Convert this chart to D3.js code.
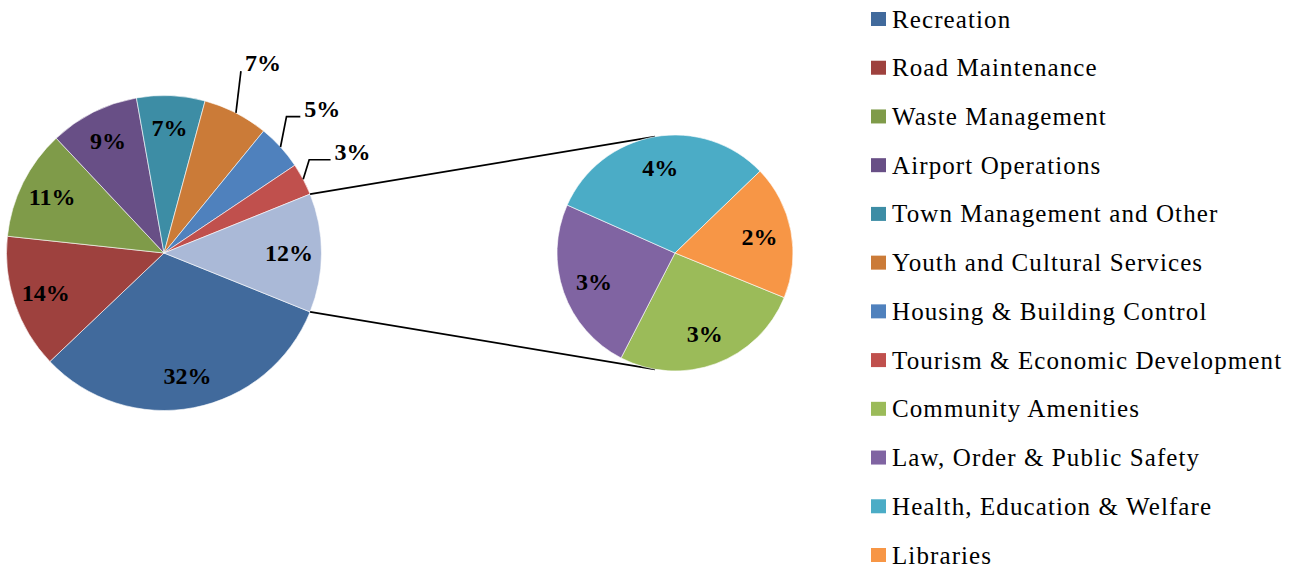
<!DOCTYPE html>
<html><head><meta charset="utf-8">
<script src="https://cdn.jsdelivr.net/npm/d3@7"></script>
<style>
html,body{margin:0;padding:0;background:#fff;}
svg{display:block;}
svg text{font-family:"Liberation Serif","Times New Roman",serif;}
</style></head>
<body>
<svg id="chart" width="1303" height="569"></svg>
<script>
const mainCategories = ["Recreation","Road Maintenance","Waste Management","Airport Operations","Town Management and Other","Youth and Cultural Services","Housing & Building Control","Tourism & Economic Development"];
const mainValues = [31.8,13.8,11.3,9.2,7.0,6.7,4.7,3.3];
const secondCategories = ["Community Amenities","Law, Order & Public Safety","Health, Education & Welfare","Libraries"];
const secondValues = [3.22,2.94,3.80,2.24];
const mainColors = ["#416A9C","#9E413E","#7F9B49","#684F86","#3D8DA5","#CB7B38","#4F81BD","#C0504D"];
const otherColor = "#AAB9D7";
const secondColors = ["#9BBB59","#8064A2","#4BACC6","#F79646"];

const FONT = "Liberation Serif, Times New Roman, serif";
const svg = d3.select("#chart");
const otherValue = d3.sum(secondValues);
const total = d3.sum(mainValues) + otherValue;
const pct = v => Math.round(v / total * 100) + "%";

const c1 = {x:164, y:253, r:157.5};
const c2 = {x:675, y:253, r:118};
const start = Math.PI/2 + Math.PI * otherValue/total;

const mainData = mainValues.map((v,i)=>({name:mainCategories[i], value:v, color:mainColors[i], outside: v < 7}));
mainData.push({name:"Other", value:otherValue, color:otherColor, outside:false});

const pie1 = d3.pie().sort(null).value(d=>d.value).startAngle(start).endAngle(start+2*Math.PI);
const arcs1 = pie1(mainData);
const arc1 = d3.arc().innerRadius(0).outerRadius(c1.r);

const g1 = svg.append("g").attr("transform",`translate(${c1.x},${c1.y})`);
g1.selectAll("path").data(arcs1).join("path")
  .attr("d",arc1).attr("fill",d=>d.data.color)
  .attr("stroke","#fff").attr("stroke-width",0.6);

const pt = (r,a) => [r*Math.sin(a), -r*Math.cos(a)];

const inside = arcs1.filter(d=>!d.data.outside);
g1.selectAll("text.in").data(inside).join("text").attr("class","in")
  .attr("x",d=>pt(125,(d.startAngle+d.endAngle)/2)[0])
  .attr("y",d=>pt(125,(d.startAngle+d.endAngle)/2)[1])
  .attr("text-anchor","middle").attr("dominant-baseline","central")
  .attr("font-family",FONT).attr("font-weight","bold").attr("font-size",24).attr("fill","#000")
  .text(d=>pct(d.data.value));

const outside = arcs1.filter(d=>d.data.outside);
outside.forEach(d=>{
  const m = (d.startAngle+d.endAngle)/2;
  const e = pt(c1.r,m);
  const l = pt(210,m);
  const lx = l[0] + 3, ly = l[1] - 3;
  const t = g1.append("text").attr("x",lx).attr("y",ly)
    .attr("text-anchor","middle").attr("dominant-baseline","central")
    .attr("font-family",FONT).attr("font-weight","bold").attr("font-size",24).attr("fill","#000")
    .text(pct(d.data.value));
  const w = t.node().getComputedTextLength();
  const endX = lx - w/2 - 4, yy = ly + 8;
  const elbowX = Math.min(e[0] + 6, endX);
  g1.append("polyline")
    .attr("points",`${e[0]},${e[1]} ${elbowX},${yy} ${endX},${yy}`)
    .attr("fill","none").attr("stroke","#000").attr("stroke-width",1.7);
});

const other = arcs1[arcs1.length-1];
const pUp = pt(c1.r, other.startAngle), pDn = pt(c1.r, other.endAngle);
const off = Math.asin(20/c2.r);
const qUp = pt(c2.r, -off), qDn = pt(c2.r, Math.PI+off);
svg.append("line").attr("x1",c1.x+pUp[0]).attr("y1",c1.y+pUp[1]).attr("x2",c2.x+qUp[0]).attr("y2",c2.y+qUp[1]).attr("stroke","#000").attr("stroke-width",1.8);
svg.append("line").attr("x1",c1.x+pDn[0]).attr("y1",c1.y+pDn[1]).attr("x2",c2.x+qDn[0]).attr("y2",c2.y+qDn[1]).attr("stroke","#000").attr("stroke-width",1.8);

const secData = secondValues.map((v,i)=>({name:secondCategories[i], value:v, color:secondColors[i]}));
const start2 = Math.PI/2 + 22.2*Math.PI/180;
const pie2 = d3.pie().sort(null).value(d=>d.value).startAngle(start2).endAngle(start2+2*Math.PI);
const arcs2 = pie2(secData);
const arc2 = d3.arc().innerRadius(0).outerRadius(c2.r);
const g2 = svg.append("g").attr("transform",`translate(${c2.x},${c2.y})`);
g2.selectAll("path").data(arcs2).join("path")
  .attr("d",arc2).attr("fill",d=>d.data.color)
  .attr("stroke","#fff").attr("stroke-width",0.6);
g2.selectAll("text").data(arcs2).join("text")
  .attr("x",d=>pt(86,(d.startAngle+d.endAngle)/2)[0])
  .attr("y",d=>pt(86,(d.startAngle+d.endAngle)/2)[1])
  .attr("text-anchor","middle").attr("dominant-baseline","central")
  .attr("font-family",FONT).attr("font-weight","bold").attr("font-size",24).attr("fill","#000")
  .text(d=>pct(d.data.value));

const legendItems = mainData.slice(0,8).concat(secData);
const y = d3.scalePoint().domain(legendItems.map(d=>d.name)).range([19,555]);
const lg = svg.append("g");
const rows = lg.selectAll("g").data(legendItems).join("g")
  .attr("transform",d=>`translate(871,${y(d.name)})`);
rows.append("rect").attr("x",0).attr("y",-7).attr("width",15).attr("height",14).attr("fill",d=>d.color);
rows.append("text").attr("x",21).attr("y",0).attr("dominant-baseline","central")
  .attr("font-family",FONT).attr("font-size",25).attr("letter-spacing",1.1).attr("fill","#000").text(d=>d.name);
</script>
</body></html>
